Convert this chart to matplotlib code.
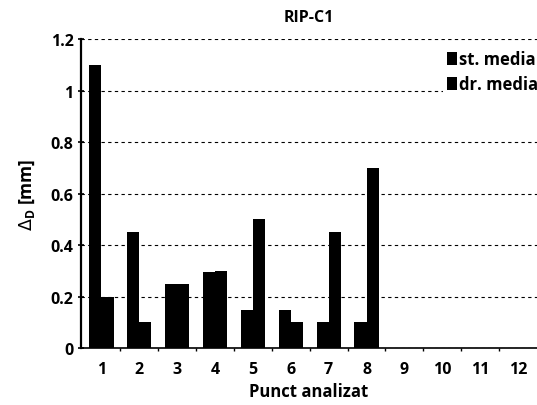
import matplotlib
matplotlib.use("Agg")
import matplotlib.pyplot as plt
import numpy as np

# Measurement points and mean deviations (mm)
points = ["1", "2", "3", "4", "5", "6", "7", "8", "9", "10", "11", "12"]
st_media = [1.10, 0.45, 0.25, 0.295, 0.15, 0.15, 0.10, 0.10, 0, 0, 0, 0]
dr_media = [0.20, 0.10, 0.25, 0.30, 0.50, 0.10, 0.45, 0.70, 0, 0, 0, 0]
y_ticks = [0, 0.2, 0.4, 0.6, 0.8, 1.0, 1.2]
y_tick_labels = ["0", "0.2", "0.4", "0.6", "0.8", "1", "1.2"]

plt.rcParams["font.family"] = ["Open Sans", "DejaVu Sans"]

fig = plt.figure(figsize=(5.37, 4.06), dpi=100)
ax = fig.add_axes([0.150, 0.140, 0.850, 0.761])

x = np.arange(1, len(points) + 1)
w = 0.32
ax.bar(x - w / 2, st_media, width=w, color="black", label="st. media", zorder=3)
ax.bar(x + w / 2, dr_media, width=w, color="black", label="dr. media", zorder=3)

ax.set_xlim(0.45, 12.5)
ax.set_ylim(0, 1.2)
ax.set_xticks(x)
ax.set_xticklabels(points)
ax.set_xticks(np.arange(1.5, 12.5, 1), minor=True)
ax.set_yticks(y_ticks)
ax.set_yticklabels(y_tick_labels)

for s in ["top", "right"]:
    ax.spines[s].set_visible(False)
ax.spines["left"].set_linewidth(1.6)
ax.spines["bottom"].set_linewidth(1.2)

ax.tick_params(axis="x", which="major", length=0, pad=9, labelsize=11.5)
ax.tick_params(axis="x", which="minor", length=2, direction="out", width=1)
ax.tick_params(axis="y", length=4, direction="inout", width=1.2, labelsize=11.5, pad=3)
for lab in ax.get_xticklabels() + ax.get_yticklabels():
    lab.set_fontweight("bold")

ax.yaxis.grid(True, linestyle=(0, (3, 3)), color="black", linewidth=0.8)
ax.set_axisbelow(True)

ax.set_title("RIP-C1", fontsize=11.5, fontweight="bold", pad=13)
ax.set_xlabel("Punct analizat", fontsize=12, fontweight="bold", labelpad=4)
ax.set_ylabel(r"$\Delta_\mathregular{D}$ [mm]", fontsize=12.5, fontweight="bold", labelpad=10)

leg = ax.legend(loc="upper right", bbox_to_anchor=(1.01, 0.975), frameon=True,
                fontsize=12, handlelength=0.6, handleheight=0.8, handletextpad=0.15,
                borderpad=0.2, labelspacing=0.4, borderaxespad=0.0)
leg.get_frame().set_edgecolor("none")
leg.get_frame().set_facecolor("white")
leg.get_frame().set_alpha(1.0)
for t in leg.get_texts():
    t.set_fontweight("bold")

fig.savefig("out.png", dpi=100)
